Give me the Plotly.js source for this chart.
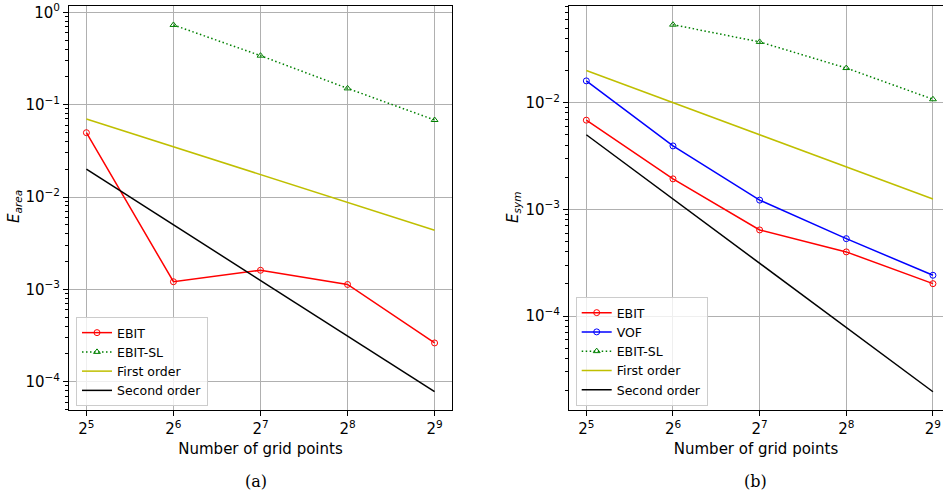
<!DOCTYPE html>
<html><head><meta charset="utf-8">
<script src="https://cdn.plot.ly/plotly-3.0.1.min.js"></script>
<style>body{margin:0;background:#fff;} #chart{width:943px;height:496px;}</style>
</head><body><div id="chart"></div>
<script>
// ---- data ----
const gridPoints = [32, 64, 128, 256, 512];
const slGridPoints = [64, 128, 256, 512];
const xTickLabels = ['2<sup>5</sup>', '2<sup>6</sup>', '2<sup>7</sup>', '2<sup>8</sup>', '2<sup>9</sup>'];

const areaEBIT = [0.0497, 0.00121, 0.00161, 0.00113, 0.000263];
const areaEBITSL = [0.729, 0.339, 0.150, 0.0682];
const areaFirst = [0.07, 0.035, 0.0175, 0.00875, 0.004375];
const areaSecond = [0.02, 0.005, 0.00125, 0.0003125, 0.000078125];

const symEBIT = [0.00685, 0.00193, 0.000641, 0.000399, 0.000201];
const symVOF = [0.0160, 0.00393, 0.00122, 0.000531, 0.000241];
const symEBITSL = [0.0538, 0.0371, 0.0211, 0.01076];
const symFirst = [0.02, 0.01, 0.005, 0.0025, 0.00125];
const symSecond = [0.005, 0.00125, 0.0003125, 0.000078125, 0.0000195];

const yTickValsArea = [1e-4, 1e-3, 1e-2, 1e-1, 1];
const yTickLabelsArea = ['10<sup>−4</sup>', '10<sup>−3</sup>', '10<sup>−2</sup>', '10<sup>−1</sup>', '10<sup>0</sup>'];
const yTickValsSym = [1e-4, 1e-3, 1e-2];
const yTickLabelsSym = ['10<sup>−4</sup>', '10<sup>−3</sup>', '10<sup>−2</sup>'];

// minor tick positions (2..9 x 10^k)
const minorVals = [];
for (let k = -6; k <= 0; k++) for (let m = 2; m <= 9; m++) minorVals.push(m * Math.pow(10, k));

const FONT = 'DejaVu Sans, sans-serif';
const RED = '#ff0000', BLUE = '#0000ff', GREEN = '#008000', OLIVE = '#bfbf00', BLACK = '#000000';

function mk(x, y, name, color, opts) {
  return Object.assign({
    x: x, y: y, name: name, type: 'scatter', mode: 'lines',
    line: {color: color, width: 1.5}
  }, opts);
}
const circ = c => ({mode: 'lines+markers', marker: {symbol: 'circle-open', size: 6, color: c, line: {width: 1, color: c}}});
const tri = c => ({mode: 'lines+markers', line: {color: c, width: 1.5, dash: '1.5px,2.5px'}, marker: {symbol: 'triangle-up-open', size: 6, color: c, line: {width: 1, color: c}}});

const traces = [
  mk(gridPoints, areaEBIT, 'EBIT', RED, Object.assign(circ(RED), {xaxis: 'x', yaxis: 'y', legend: 'legend'})),
  mk(slGridPoints, areaEBITSL, 'EBIT-SL', GREEN, Object.assign(tri(GREEN), {xaxis: 'x', yaxis: 'y', legend: 'legend'})),
  mk(gridPoints, areaFirst, 'First order', OLIVE, {xaxis: 'x', yaxis: 'y', legend: 'legend'}),
  mk(gridPoints, areaSecond, 'Second order', BLACK, {xaxis: 'x', yaxis: 'y', legend: 'legend'}),

  mk(gridPoints, symEBIT, 'EBIT', RED, Object.assign(circ(RED), {xaxis: 'x2', yaxis: 'y2', legend: 'legend2'})),
  mk(gridPoints, symVOF, 'VOF', BLUE, Object.assign(circ(BLUE), {xaxis: 'x2', yaxis: 'y2', legend: 'legend2'})),
  mk(slGridPoints, symEBITSL, 'EBIT-SL', GREEN, Object.assign(tri(GREEN), {xaxis: 'x2', yaxis: 'y2', legend: 'legend2'})),
  mk(gridPoints, symFirst, 'First order', OLIVE, {xaxis: 'x2', yaxis: 'y2', legend: 'legend2'}),
  mk(gridPoints, symSecond, 'Second order', BLACK, {xaxis: 'x2', yaxis: 'y2', legend: 'legend2'})
];

const L2 = Math.log10(2);
const yDom = [(496 - 410) / 496, (496 - 6) / 496];

function xAxis(domain, range, mirror) {
  return {
    type: 'log', domain: domain, range: range, anchor: domain[0] < 0.5 ? 'y' : 'y2',
    tickmode: 'array', tickvals: gridPoints, ticktext: xTickLabels,
    ticks: 'outside', ticklen: 5, tickwidth: 1, tickcolor: '#000',
    showline: true, linecolor: '#000', linewidth: 1, mirror: mirror,
    showgrid: true, gridcolor: '#b0b0b0', gridwidth: 1, zeroline: false,
    tickfont: {family: FONT, size: 15, color: '#000'},
    title: {text: 'Number of grid points', font: {family: FONT, size: 15, color: '#000'}, standoff: 6}
  };
}
function yAxis(range, vals, labels, mirror, anchor) {
  return {
    type: 'log', domain: yDom, range: range, anchor: anchor,
    tickmode: 'array', tickvals: vals, ticktext: labels,
    ticks: 'outside', ticklen: 5, tickwidth: 1, tickcolor: '#000',
    minor: {tickmode: 'array', tickvals: minorVals, ticks: 'outside', ticklen: 3, tickwidth: 1, tickcolor: '#000', showgrid: false},
    showline: true, linecolor: '#000', linewidth: 1, mirror: mirror,
    showgrid: true, gridcolor: '#b0b0b0', gridwidth: 1, zeroline: false,
    tickfont: {family: FONT, size: 15, color: '#000'}
  };
}

const legendBase = {
  font: {family: FONT, size: 12.5, color: '#000'},
  bgcolor: 'rgba(255,255,255,0.8)', bordercolor: '#cccccc', borderwidth: 1,
  xanchor: 'left', yanchor: 'bottom', y: (496 - 406) / 496,
  tracegroupgap: 0, itemwidth: 30
};

const layout = {
  width: 943, height: 496,
  margin: {l: 0, r: 0, t: 0, b: 0},
  paper_bgcolor: '#fff', plot_bgcolor: '#fff',
  showlegend: true,
  xaxis: xAxis([69 / 943, 452 / 943], [4.8 * L2, 9.2 * L2], true),
  yaxis: yAxis([-4.306, 0.068], yTickValsArea, yTickLabelsArea, true, 'x'),
  xaxis2: xAxis([569 / 943, 1], [4.8 * L2, 9.116 * L2], true),
  yaxis2: yAxis([-4.881, -1.094], yTickValsSym, yTickLabelsSym, false, 'x2'),
  legend: Object.assign({}, legendBase, {x: 76 / 943}),
  legend2: Object.assign({}, legendBase, {x: 575.7 / 943}),
  annotations: [
    {text: '<i>E</i><sub><i>area</i></sub>', xref: 'paper', yref: 'paper', x: 15 / 943, y: (496 - 206) / 496,
     xanchor: 'center', yanchor: 'middle',
     textangle: -90, showarrow: false, font: {family: FONT, size: 15, color: '#000'}},
    {text: '<i>E</i><sub><i>sym</i></sub>', xref: 'paper', yref: 'paper', x: 514 / 943, y: (496 - 208) / 496,
     xanchor: 'center', yanchor: 'middle',
     textangle: -90, showarrow: false, font: {family: FONT, size: 15, color: '#000'}},
    {text: '(a)', xref: 'paper', yref: 'paper', x: 256 / 943, y: (496 - 481) / 496, showarrow: false,
     xanchor: 'center', yanchor: 'middle',
     font: {family: 'DejaVu Serif, serif', size: 16, color: '#000'}},
    {text: '(b)', xref: 'paper', yref: 'paper', x: 755 / 943, y: (496 - 481) / 496, showarrow: false,
     xanchor: 'center', yanchor: 'middle',
     font: {family: 'DejaVu Serif, serif', size: 16, color: '#000'}}
  ]
};

Plotly.newPlot('chart', traces, layout, {displayModeBar: false, staticPlot: true});
</script>
</body></html>
